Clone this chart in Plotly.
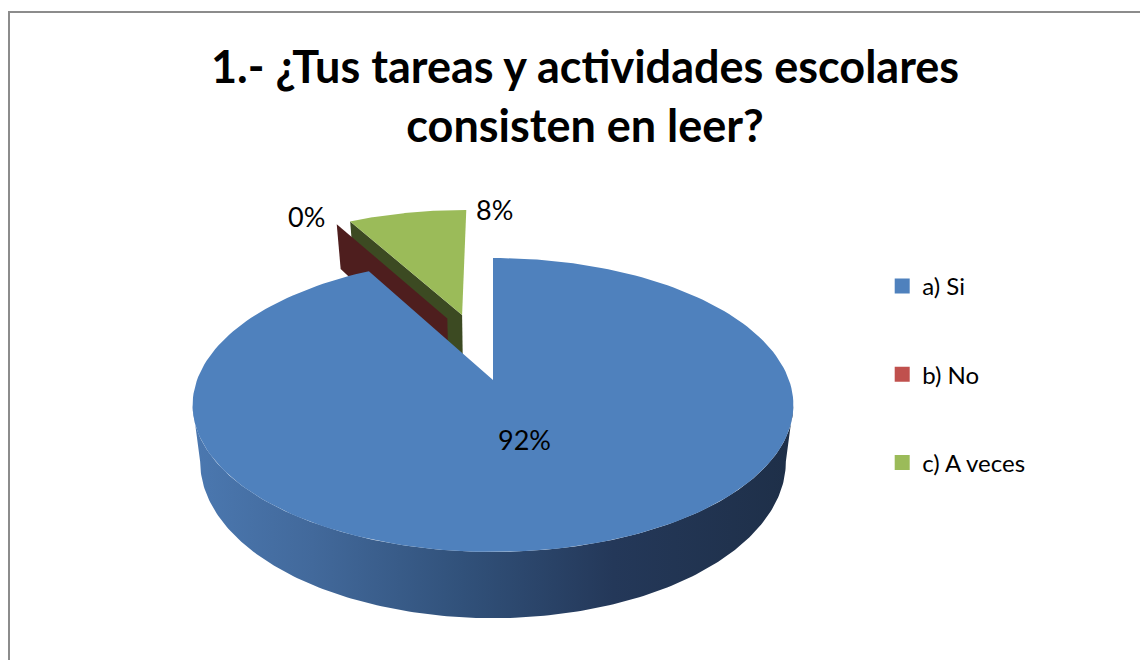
import numpy as np
import plotly.graph_objects as go

# data
categories = ["a) Si", "b) No", "c) A veces"]
values = [92, 0, 8]

title_text = "1.- ¿Tus tareas y actividades escolares<br>consisten en leer?"

top_colors = ["#4F81BD", "#C0504D", "#9BBB59"]
wall_colors = ["#2E4C73", "#4E1E1E", "#3C4A22"]
blue_wall_scale = [[0, "#4B78B0"], [0.2, "#42699B"], [0.45, "#31517A"],
                   [0.7, "#243859"], [1, "#1E2F48"]]

# the page body has an 8px margin, axes are shifted so data units == screen pixels
OFF = 8

# 3d view settings (pixel units)
CX, CY = 493, 380
RX, RY = 296, 142.7
PERSP = 0.17
DEPTH = 55
BOTTOM_SHRINK = 0.975

# exploded slices: (distance, direction in degrees clockwise from top)
explode = [(0.0, 0.0), (0.494, 340.3), (0.507, 347.1)]
draw_order = [2, 1, 0]


def project(u, v, bottom=False):
    s = 1 + PERSP * v
    x = u * RX / s
    y = -v * RY / s
    if bottom:
        x = x * BOTTOM_SHRINK
        y = y + DEPTH / s
    return CX + x, CY + y


def rim(ou, ov, t0, t1, n=200):
    t = np.radians(np.linspace(t0, t1, n))
    return ou + np.sin(t), ov + np.cos(t)


total = sum(values)
starts = np.concatenate([[0], np.cumsum(values)[:-1]]) / total * 360
ends = np.cumsum(values) / total * 360

fig = go.Figure()
front_lim = np.degrees(np.arccos(-PERSP))

for i in draw_order:
    d, a = explode[i]
    ou, ov = d * np.sin(np.radians(a)), d * np.cos(np.radians(a))
    t0, t1 = starts[i], ends[i]

    # radial walls facing the viewer
    for t, sign in ((t0, -1), (t1, 1)):
        tr = np.radians(t)
        nv = -sign * np.sin(tr)
        if nv < -1e-6:
            u = np.array([ou, ou + np.sin(tr)])
            v = np.array([ov, ov + np.cos(tr)])
            xt, yt = project(u, v)
            xb, yb = project(u, v, bottom=True)
            fig.add_trace(go.Scatter(
                x=np.concatenate([xt, xb[::-1]]), y=np.concatenate([yt, yb[::-1]]),
                fill="toself", mode="lines", line=dict(width=0),
                fillcolor=wall_colors[i], hoverinfo="skip", showlegend=False))

    # curved outer wall (front part only)
    w0, w1 = max(t0, front_lim), min(t1, 360 - front_lim)
    if w1 > w0:
        u, v = rim(ou, ov, w0, w1)
        xt, yt = project(u, v)
        xb, yb = project(u, v, bottom=True)
        wall = dict(fillcolor=wall_colors[i])
        if i == 0:
            wall = dict(fillgradient=dict(type="horizontal", colorscale=blue_wall_scale))
        fig.add_trace(go.Scatter(
            x=np.concatenate([xt, xb[::-1]]), y=np.concatenate([yt, yb[::-1]]),
            fill="toself", mode="lines", line=dict(width=0),
            hoverinfo="skip", showlegend=False, **wall))

    # top face
    if values[i] > 0:
        u, v = rim(ou, ov, t0, t1)
        u = np.concatenate([[ou], u, [ou]])
        v = np.concatenate([[ov], v, [ov]])
        xt, yt = project(u, v)
        fig.add_trace(go.Scatter(
            x=xt, y=yt, fill="toself", mode="lines", line=dict(width=0),
            fillcolor=top_colors[i], hoverinfo="skip", showlegend=False))

# legend entries
for cat, col in zip(categories, top_colors):
    fig.add_trace(go.Scatter(
        x=[None], y=[None], mode="markers", name=cat, legendgroup=cat,
        marker=dict(symbol="square", size=15, color=col)))

# percentage labels
pct = [f"{round(v / total * 100)}%" for v in values]
label_font = dict(family="Lato, sans-serif", size=27, color="#000000")
for i in range(len(values)):
    d, a = explode[i]
    ou, ov = d * np.sin(np.radians(a)), d * np.cos(np.radians(a))
    if values[i] / total > 0.5:
        mid = np.radians((starts[i] + ends[i]) / 2)
        x, y = project(ou + 0.4 * np.sin(mid), ov + 0.4 * np.cos(mid))
        fig.add_annotation(x=x, y=y, text=pct[i], showarrow=False, font=label_font)
    elif values[i] == 0:
        tr = np.radians(starts[i])
        x, y = project(ou + np.sin(tr), ov + np.cos(tr))
        fig.add_annotation(x=x, y=y, text=pct[i], showarrow=False, font=label_font,
                           xanchor="right", xshift=-10, yshift=8)
    else:
        tr = np.radians(ends[i])
        x, y = project(ou + np.sin(tr), ov + np.cos(tr))
        fig.add_annotation(x=x, y=y, text=pct[i], showarrow=False, font=label_font,
                           xanchor="left", xshift=8, yshift=0)

fig.add_annotation(x=585, y=95.5, text=f"<b>{title_text}</b>", showarrow=False,
                   font=dict(family="Lato, sans-serif", size=45, color="#000000"))

# chart border
fig.add_shape(type="rect", x0=OFF + 1, y0=12, x1=1250, y1=760,
              line=dict(color="#8C8C8C", width=2))

fig.update_layout(
    width=1148, height=660,
    margin=dict(l=0, r=0, t=0, b=0),
    paper_bgcolor="white", plot_bgcolor="white",
    xaxis=dict(range=[OFF, 1148 + OFF], visible=False, fixedrange=True),
    yaxis=dict(range=[660 + OFF, OFF], visible=False, fixedrange=True),
    legend=dict(x=0.7615, y=1 - 256 / 660, xanchor="left", yanchor="top",
                tracegroupgap=54, font=dict(family="Lato, sans-serif", size=24,
                                            color="#000000")),
)

fig.write_html("out.html")
